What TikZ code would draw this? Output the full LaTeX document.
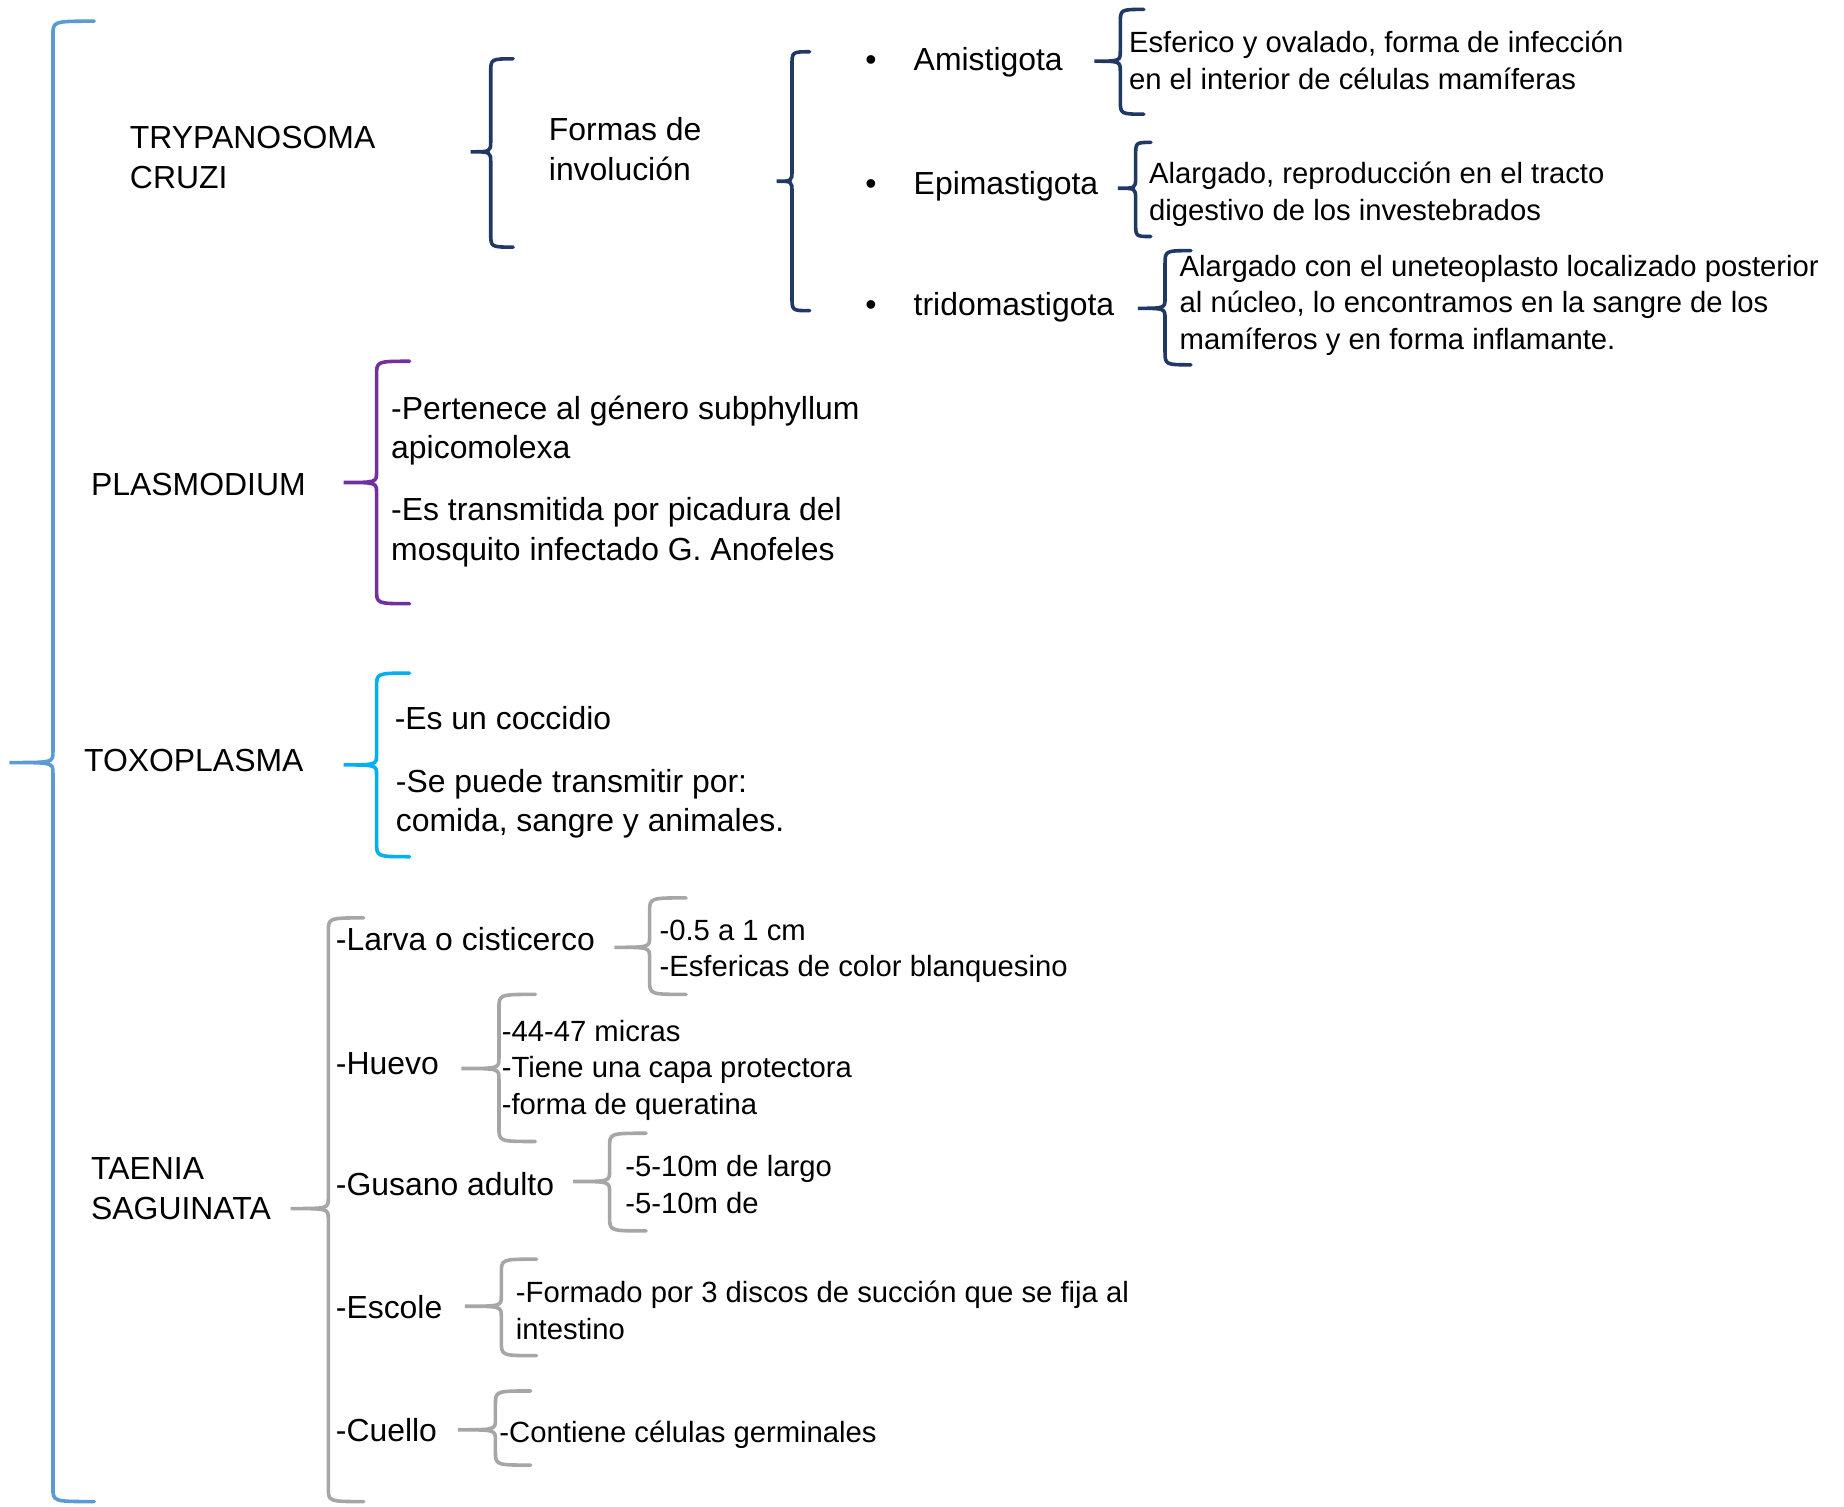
\documentclass[tikz,border=0pt]{standalone}
\usepackage{fontspec}
\setmainfont{Liberation Sans}
\usetikzlibrary{positioning}
\definecolor{azulclaro}{HTML}{5B9BD5}
\definecolor{marino}{HTML}{203864}
\definecolor{morado}{HTML}{7030A0}
\definecolor{celeste}{HTML}{00B0F0}
\definecolor{gris}{HTML}{A6A6A6}
% llave: color, x, arriba, abajo, punta x, punta y, extremo x
\newcommand{\llave}[7]{%
  \draw[llave,#1] (#7,#3) .. controls (#2,#3) .. (#2,#3+12) -- (#2,#6-9)
    .. controls (#2,#6) .. (#5,#6) .. controls (#2,#6) .. (#2,#6+9)
    -- (#2,#4-12) .. controls (#2,#4) .. (#7,#4);}
\begin{document}
\begin{tikzpicture}[x=0.4425pt,y=-0.4425pt,
  llave/.style={line width=1.35pt,line cap=round},
  grande/.style={anchor=base west,inner sep=0pt,align=left,font=\fontsize{12}{15}\selectfont},
  chico/.style={anchor=base west,inner sep=0pt,align=left,font=\fontsize{11}{13.8}\selectfont}]
\useasboundingbox (0,0) rectangle (1567,1280);
% llave principal
\llave{azulclaro}{45}{18}{1276}{8}{648}{80}
% Trypanosoma
\node[grande] (trypa) at (110,160) {TRYPANOSOMA\\CRUZI};
\llave{marino}{417}{50}{210}{400}{129}{436}
\node[grande] (formas) at (466,153) {Formas de\\involución};
\llave{marino}{673}{44}{264}{660}{154}{688}
\node[grande] (b1) at (735,60) {•};
\node[grande] (b2) at (735,165) {•};
\node[grande] (b3) at (735,268) {•};
\node[grande] (amis) at (776,60) {Amistigota};
\node[grande] (epim) at (776,165) {Epimastigota};
\node[grande] (trid) at (776,268) {tridomastigota};
\llave{marino}{952}{8}{97}{930}{52}{972}
\node[chico] (amisd) at (959,76) {Esferico y ovalado, forma de infección\\en el interior de células mamíferas};
\llave{marino}{965}{121}{201}{950}{160}{978}
\node[chico] (epimd) at (976,187) {Alargado, reproducción en el tracto\\digestivo de los investebrados};
\llave{marino}{990}{213}{310}{967}{262}{1012}
\node[chico] (tridd) at (1002,297) {Alargado con el uneteoplasto localizado posterior\\al núcleo, lo encontramos en la sangre de los\\mamíferos y en forma inflamante.};
% Plasmodium
\node[grande] (plasmo) at (77,421) {PLASMODIUM};
\llave{morado}{320}{307}{513}{292}{410}{348}
\node[grande] (plasmo1) at (332,390) {-Pertenece al género subphyllum\\apicomolexa};
\node[grande] (plasmo2) at (332,476) {-Es transmitida por picadura del\\mosquito infectado G. Anofeles};
% Toxoplasma
\node[grande] (toxo) at (71,656) {TOXOPLASMA};
\llave{celeste}{320}{572}{728}{292}{650}{348}
\node[grande] (toxo1) at (335,620) {-Es un coccidio};
\node[grande] (toxo2) at (336,707) {-Se puede transmitir por:\\comida, sangre y animales.};
% Taenia
\node[grande] (taenia) at (77,1036) {TAENIA\\SAGUINATA};
\llave{gris}{279}{780}{1276}{247}{1027}{309}
\node[grande] (larva) at (285,808) {-Larva o cisticerco};
\node[grande] (huevo) at (285,913) {-Huevo};
\node[grande] (gusano) at (285,1016) {-Gusano adulto};
\node[grande] (escole) at (285,1120) {-Escole};
\node[grande] (cuello) at (285,1225) {-Cuello};
\llave{gris}{552}{763}{845}{522}{805}{583}
\node[chico] (larvad) at (560,830) {-0.5 a 1 cm\\-Esfericas de color blanquesino};
\llave{gris}{424}{845}{970}{392}{908}{455}
\node[chico] (huevod) at (426,947) {-44-47 micras\\-Tiene una capa protectora\\-forma de queratina};
\llave{gris}{518}{963}{1046}{487}{1004}{549}
\node[chico] (gusanod) at (531,1031) {-5-10m de largo\\-5-10m de};
\llave{gris}{426}{1070}{1152}{395}{1110}{456}
\node[chico] (escoled) at (438,1138) {-Formado por 3 discos de succión que se fija al\\intestino};
\llave{gris}{421}{1182}{1245}{389}{1215}{451}
\node[chico] (cuellod) at (424,1226) {-Contiene células germinales};
\end{tikzpicture}
\end{document}
